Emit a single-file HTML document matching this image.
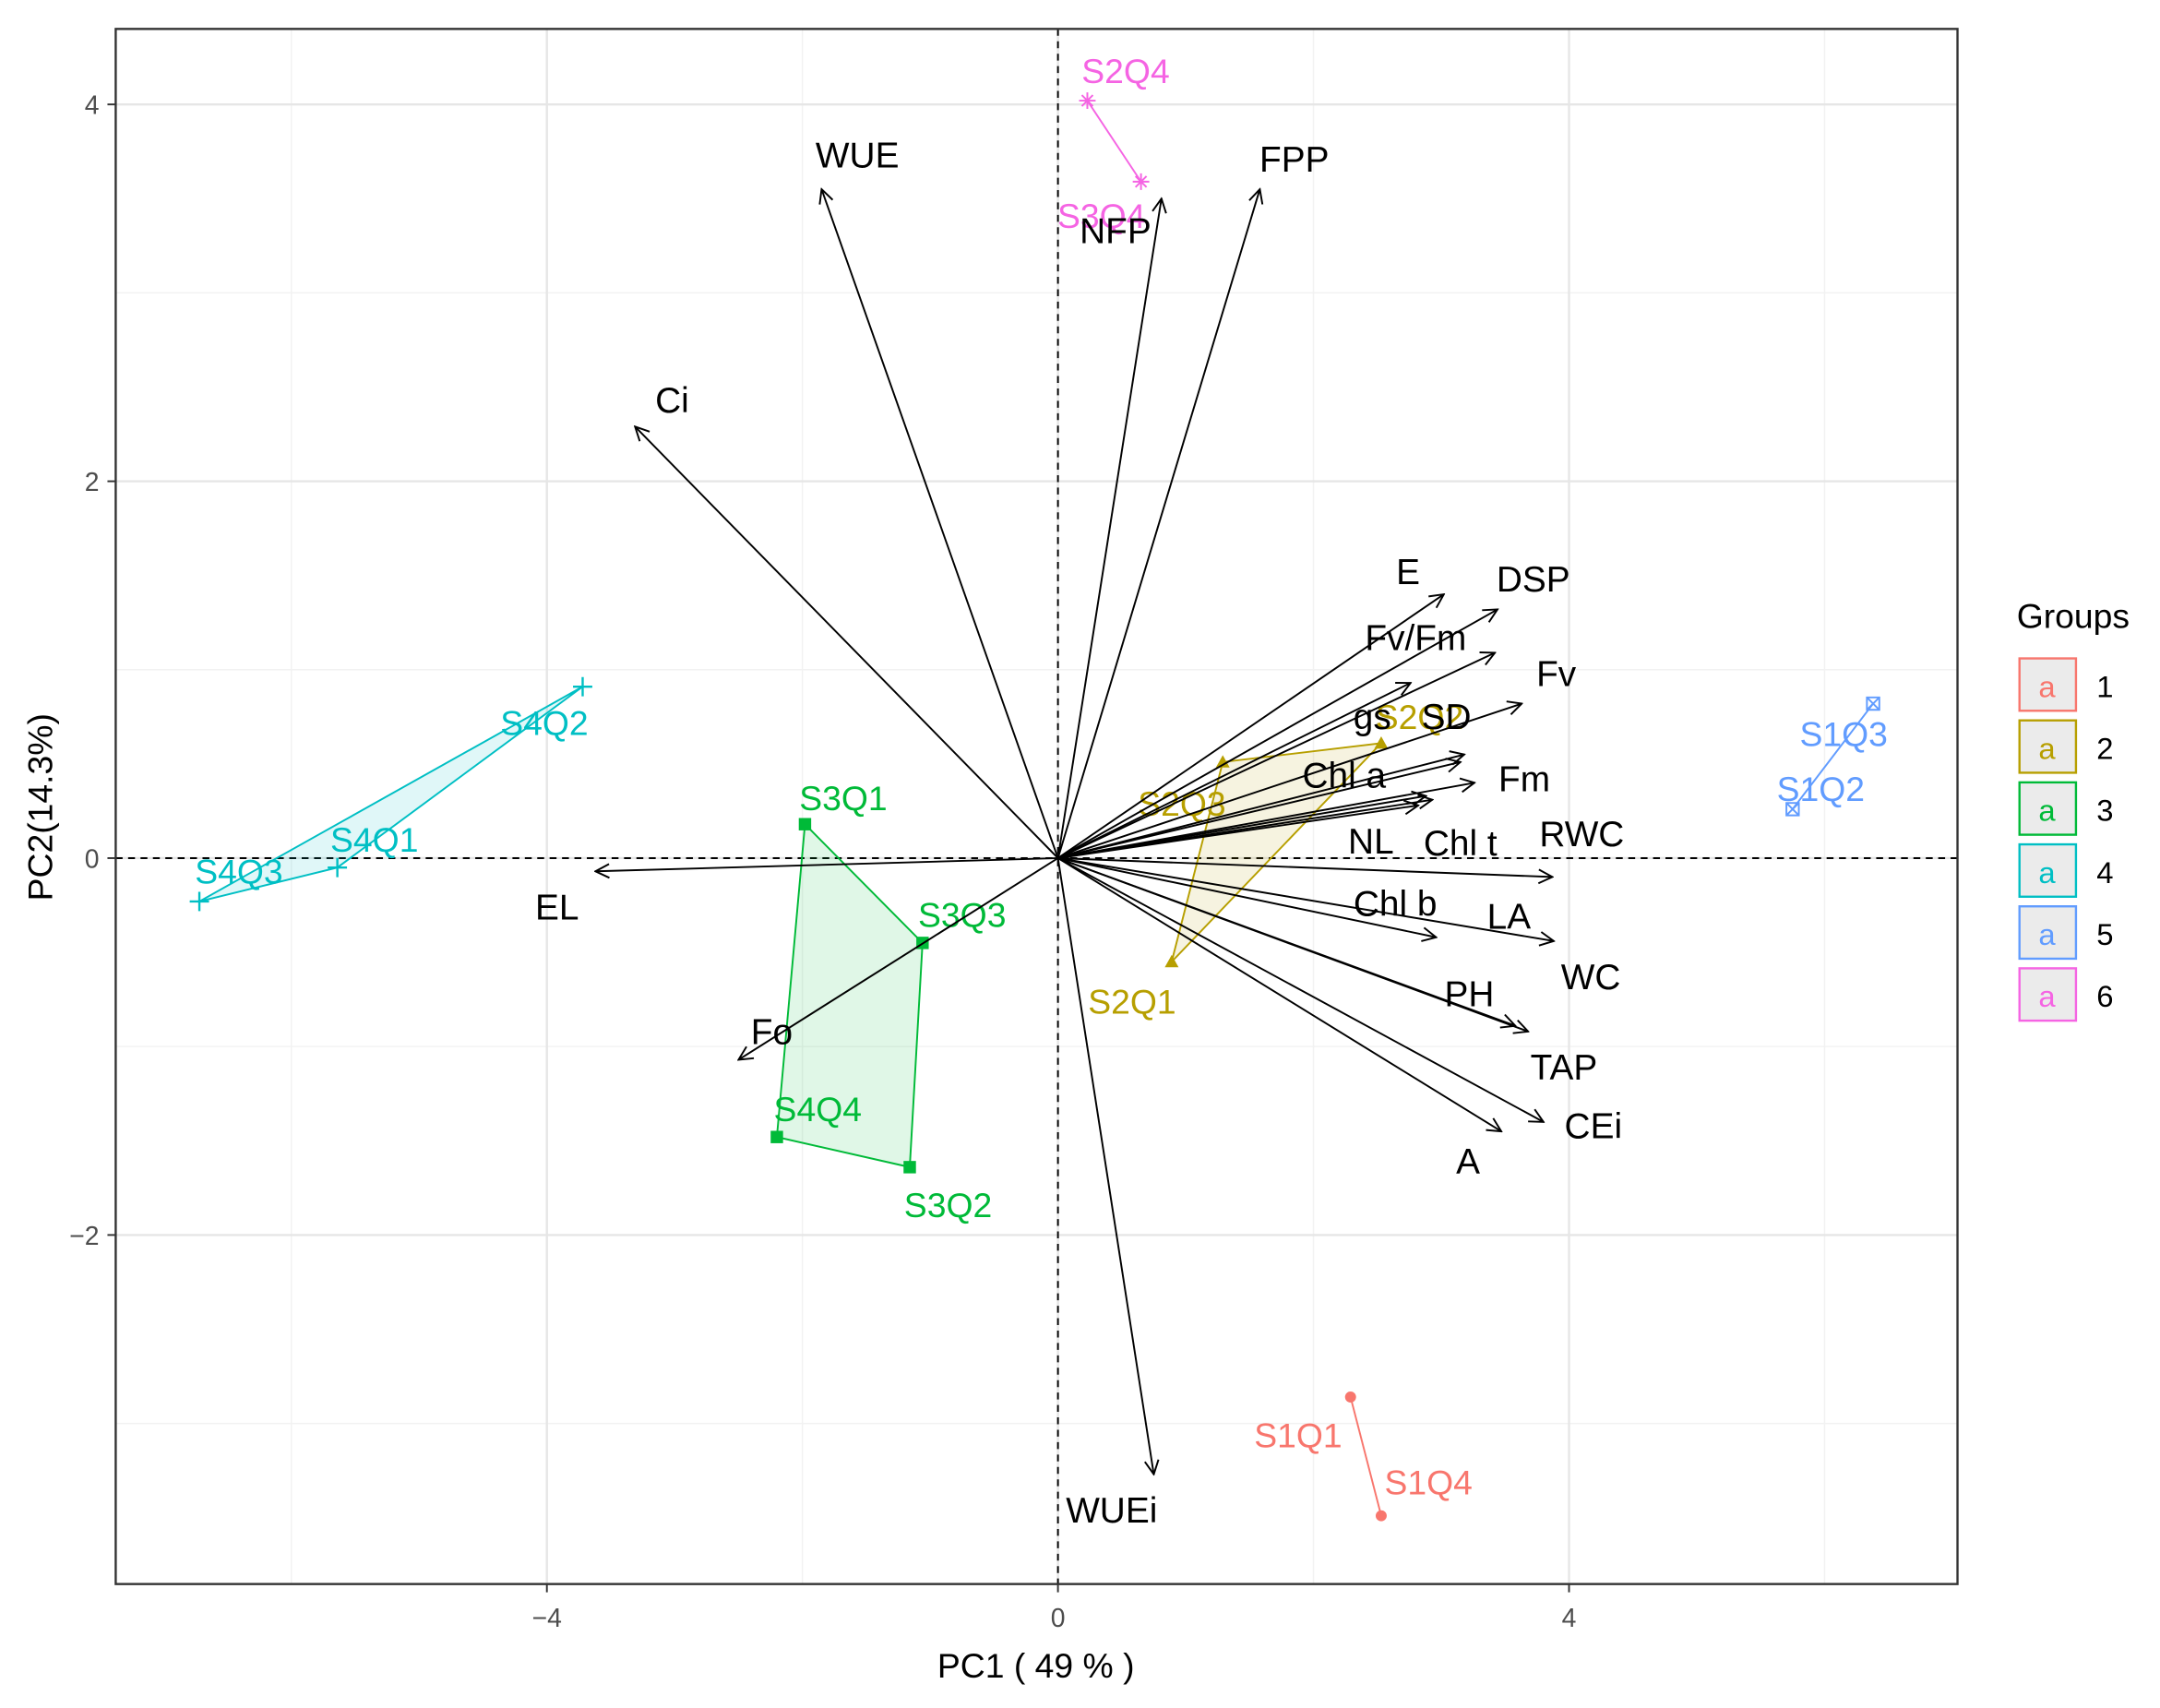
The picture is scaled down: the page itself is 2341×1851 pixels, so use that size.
<!DOCTYPE html>
<html><head><meta charset="utf-8"><title>PCA biplot</title>
<style>html,body{margin:0;padding:0;background:#fff}svg{display:block}</style></head>
<body>
<svg id="chart" width="2341" height="1851" viewBox="0 0 1568 1240" preserveAspectRatio="none" xmlns="http://www.w3.org/2000/svg" font-family="Liberation Sans, sans-serif">
<defs>
<marker id="ah" viewBox="0 0 12 12" refX="11" refY="6" markerWidth="12" markerHeight="12" markerUnits="userSpaceOnUse" orient="auto">
<path d="M1,1 L11,6 L1,11" fill="none" stroke="#000" stroke-width="1.3"/></marker>
</defs>
</svg>
<script>
// ---- data ----
const xTicks=[-4,0,4];
const yTicks=[-2,0,2,4];
const xMinor=[-6,-2,2,6];
const yMinor=[-3,-1,1,3];
const groupIds=[1,2,3,4,5,6];
const groupColors=['#F8766D','#B79F00','#00BA38','#00BFC4','#619CFF','#F564E3'];
const obsNames=['S1Q1','S1Q4','S2Q1','S2Q3','S2Q2','S3Q1','S3Q3','S3Q2','S4Q4','S4Q3','S4Q2','S4Q1','S1Q3','S1Q2','S2Q4','S3Q4'];
const obsGroup=[1,1,2,2,2,3,3,3,3,4,4,4,5,5,6,6];
const obsX=[2.29,2.53,0.89,1.29,2.53,-1.98,-1.06,-1.16,-2.20,-6.72,-3.72,-5.64,6.38,5.75,0.23,0.65];
const obsY=[-2.86,-3.49,-0.55,0.51,0.61,0.18,-0.45,-1.64,-1.48,-0.23,0.91,-0.05,0.82,0.26,4.02,3.59];
const obsLabX=[1.88,2.90,0.58,0.97,2.83,-1.68,-0.75,-0.86,-1.88,-6.41,-4.02,-5.35,6.15,5.97,0.53,0.34];
const obsLabY=[-3.06,-3.31,-0.76,0.29,0.75,0.32,-0.30,-1.84,-1.33,-0.07,0.72,0.10,0.66,0.37,4.18,3.41];
const varNames=['WUE','FPP','NFP','Ci','E','DSP','Fv/Fm','gs','Fv','SD','Chl a','Fm','RWC','NL','Chl t','EL','LA','Chl b','WC','PH','TAP','CEi','A','Fo','WUEi'];
const varX=[-1.85,1.58,0.81,-3.31,3.02,3.44,2.76,3.42,3.63,3.18,3.15,3.26,2.93,2.82,2.88,-3.62,3.87,2.96,3.88,3.58,3.68,3.80,3.47,-2.50,0.75];
const varY=[3.55,3.55,3.50,2.29,1.40,1.32,0.93,1.09,0.82,0.55,0.51,0.40,0.31,0.28,0.33,-0.07,-0.10,-0.42,-0.44,-0.89,-0.92,-1.40,-1.45,-1.07,-3.27];
const varLabX=[-1.57,1.85,0.45,-3.02,2.74,3.72,2.80,2.46,3.90,3.04,2.24,3.65,4.10,2.45,3.15,-3.92,3.53,2.64,4.17,3.22,3.96,4.19,3.21,-2.24,0.42];
const varLabY=[3.73,3.71,3.33,2.43,1.52,1.48,1.17,0.75,0.98,0.75,0.44,0.42,0.13,0.09,0.08,-0.26,-0.31,-0.24,-0.63,-0.72,-1.11,-1.42,-1.61,-0.92,-3.46];

// ---- axes ----
const L=84,R=1421,T=21,B=1150;
const X=v=>768+92.75*v;
const Y=v=>623-136.8*v;
const svg=document.getElementById('chart');
const NS='http://www.w3.org/2000/svg';
function mk(tag,attrs,parent){const e=document.createElementNS(NS,tag);for(const k in attrs)e.setAttribute(k,attrs[k]);(parent||svg).appendChild(e);return e;}

const panel=mk('rect',{x:L,y:T,width:R-L,height:B-T,fill:'#fff'});


const grid=mk('g',{});


xMinor.forEach(v=>mk('line',{x1:X(v),x2:X(v),y1:T,y2:B,stroke:'#f2f2f2','stroke-width':1},grid));
yMinor.forEach(v=>mk('line',{y1:Y(v),y2:Y(v),x1:L,x2:R,stroke:'#f2f2f2','stroke-width':1},grid));
xTicks.forEach(v=>mk('line',{x1:X(v),x2:X(v),y1:T,y2:B,stroke:'#e6e6e6','stroke-width':1.6},grid));
yTicks.forEach(v=>mk('line',{y1:Y(v),y2:Y(v),x1:L,x2:R,stroke:'#e6e6e6','stroke-width':1.6},grid));
const ref=mk('g',{stroke:'#000','stroke-width':1.3,'stroke-dasharray':'5,4'});


mk('line',{x1:X(0),x2:X(0),y1:T,y2:B},ref);
mk('line',{y1:Y(0),y2:Y(0),x1:L,x2:R},ref);

// ---- groups ----
const gg=mk('g',{});


groupIds.forEach((gid,gi)=>{
  const c=groupColors[gi];
  const idx=obsGroup.map((g,i)=>g===gid?i:-1).filter(i=>i>=0);
  const pts=idx.map(i=>X(obsX[i])+','+Y(obsY[i])).join(' ');
  const shape=mk(idx.length>2?'polygon':'polyline',{points:pts,fill:idx.length>2?c:'none','fill-opacity':0.12,stroke:c,'stroke-width':1.3},gg);
  
  
  idx.forEach(i=>{
    const x=X(obsX[i]),y=Y(obsY[i]);let m;
    if(gi===0)m=mk('circle',{cx:x,cy:y,r:4,fill:c},gg);
    else if(gi===1)m=mk('polygon',{points:`${x},${y-5} ${x-5},${y+4} ${x+5},${y+4}`,fill:c},gg);
    else if(gi===2)m=mk('rect',{x:x-4.5,y:y-4.5,width:9,height:9,fill:c},gg);
    else if(gi===3)m=mk('path',{d:`M${x-7},${y}H${x+7}M${x},${y-7}V${y+7}`,stroke:c,'stroke-width':1.6},gg);
    else if(gi===4)m=mk('path',{d:`M${x-4.5},${y-4.5}h9v9h-9zM${x-4.5},${y-4.5}l9,9M${x+4.5},${y-4.5}l-9,9`,stroke:c,'stroke-width':1.3,fill:'none'},gg);
    else m=mk('path',{d:`M${x-6},${y}H${x+6}M${x},${y-6}V${y+6}M${x-4},${y-4}l8,8M${x+4},${y-4}l-8,8`,stroke:c,'stroke-width':1.3},gg);
    
    
  });
});

// ---- variable arrows ----
const ag=mk('g',{});


varNames.forEach((n,i)=>{
  const a=mk('line',{x1:X(0),y1:Y(0),x2:X(varX[i]),y2:Y(varY[i]),stroke:'#000','stroke-width':1.3,'marker-end':'url(#ah)'},ag);
  
  
});
varNames.forEach((n,i)=>{
  const t=mk('text',{x:X(varLabX[i]),y:Y(varLabY[i])+9,'text-anchor':'middle','font-size':26,fill:'#000'},ag);
  t.textContent=n;
  
  
});
obsNames.forEach((n,i)=>{
  const t=mk('text',{x:X(obsLabX[i]),y:Y(obsLabY[i])+9,'text-anchor':'middle','font-size':25,fill:groupColors[obsGroup[i]-1]},gg);
  t.textContent=n;
  
  
});

// ---- frame, ticks ----
const fr=mk('rect',{x:L,y:T,width:R-L,height:B-T,fill:'none',stroke:'#333','stroke-width':1.6});


const xa=mk('g',{});


xTicks.forEach(v=>{
  mk('line',{x1:X(v),x2:X(v),y1:B,y2:B+6,stroke:'#333','stroke-width':1.3},xa);
  const t=mk('text',{x:X(v),y:B+31,'text-anchor':'middle','font-size':19,fill:'#4d4d4d'},xa);
  t.textContent=v<0?'\u2212'+(-v):v;
  
  
});
const ya=mk('g',{});


yTicks.forEach(v=>{
  mk('line',{x1:L-6,x2:L,y1:Y(v),y2:Y(v),stroke:'#333','stroke-width':1.3},ya);
  const t=mk('text',{x:L-12,y:Y(v)+7,'text-anchor':'end','font-size':19,fill:'#4d4d4d'},ya);
  t.textContent=v<0?'\u2212'+(-v):v;
  
  
});
const xt=mk('text',{x:752,y:1218,'text-anchor':'middle','font-size':25,fill:'#000'});
xt.textContent='PC1 ( 49 % )';


const yt=mk('text',{x:0,y:0,'text-anchor':'middle','font-size':25,fill:'#000',transform:'translate(38,586) rotate(-90)'});
yt.textContent='PC2(14.3%)';



// ---- legend ----
const lg=mk('g',{});


const lt=mk('text',{x:1464,y:456,'font-size':25,fill:'#000'},lg);
lt.textContent='Groups';


groupIds.forEach((g,i)=>{
  const y0=478+i*45;
  const e=mk('g',{},lg);
  
  
  mk('rect',{x:1466,y:y0,width:41,height:38,fill:'#ebebeb',stroke:groupColors[i],'stroke-width':1.6},e);
  const a=mk('text',{x:1486,y:y0+28,'text-anchor':'middle','font-size':22,fill:groupColors[i]},e);
  a.textContent='a';
  const t=mk('text',{x:1522,y:y0+28,'font-size':22,fill:'#000'},e);
  t.textContent=g;
});
</script>
</body></html>
